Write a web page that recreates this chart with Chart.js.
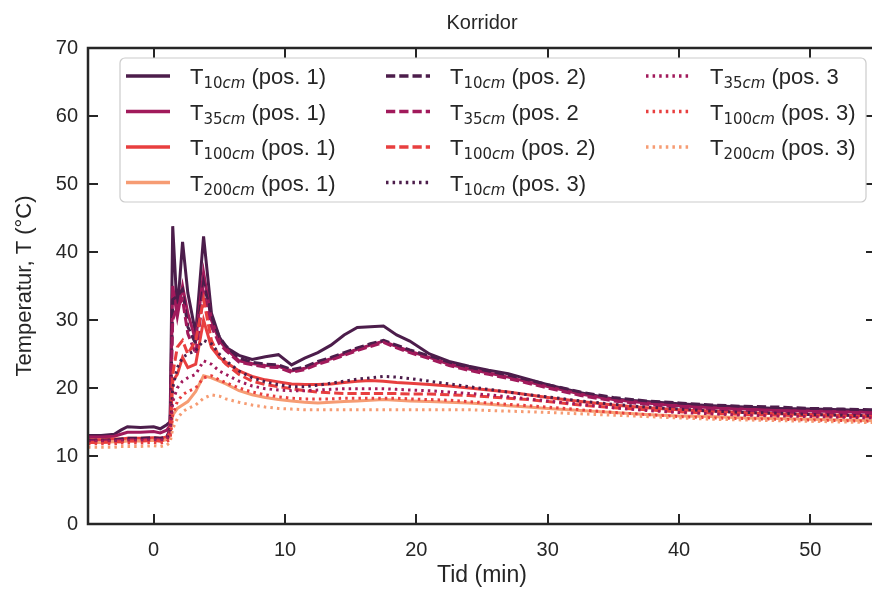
<!DOCTYPE html>
<html>
<head>
<meta charset="utf-8">
<script src="https://cdn.jsdelivr.net/npm/chart.js@4"></script>
<style>
  html, body { margin: 0; padding: 0; background: #fff; overflow: hidden; }
</style>
</head>
<body>
<canvas id="korridor" width="878" height="591"></canvas>
<script>
// time axis (min), shared by all sensors
const time = [-5, -4, -3, -2.5, -2, -1, 0, 0.5, 1.0, 1.25, 1.45, 1.8, 2.2, 2.6, 3.2, 3.8, 4.4, 5.0, 5.5, 6.5,
  7.5, 8.5, 9.5, 10.5, 11.5, 12.5, 13.5, 14.5, 15.5, 16.5, 17.5, 18.5, 19.5, 21, 22.5, 24, 25.5, 27, 28.5, 30,
  32.5, 35, 37.5, 40, 42.5, 45, 47.5, 50, 52.5, 55];

// pos. 1
const t10pos1 = [13.0, 13.0, 13.2, 13.8, 14.3, 14.2, 14.3, 14.0, 14.6, 15.0, 43.8, 31.0, 41.5, 34.0, 28.0, 42.3, 31.0, 27.5, 26.0, 24.8,
  24.2, 24.6, 24.9, 23.4, 24.4, 25.2, 26.3, 27.8, 28.9, 29.0, 29.1, 27.8, 26.9, 25.0, 23.9, 23.2, 22.6, 22.1, 21.3, 20.5,
  19.3, 18.4, 18.0, 17.7, 17.4, 17.2, 17.0, 16.9, 16.8, 16.6];
const t35pos1 = [12.8, 12.8, 12.9, 13.2, 13.5, 13.5, 13.6, 13.4, 13.8, 14.5, 35.0, 30.5, 35.0, 31.0, 27.0, 37.0, 30.0, 27.0, 25.8, 24.0,
  23.6, 23.3, 23.2, 22.5, 22.9, 23.7, 24.3, 25.0, 25.7, 26.3, 26.9, 26.1, 25.4, 24.5, 23.5, 22.8, 22.2, 21.6, 20.9, 20.2,
  19.1, 18.3, 17.8, 17.4, 17.1, 16.9, 16.7, 16.6, 16.5, 16.4];
const t100pos1 = [12.4, 12.4, 12.5, 12.5, 12.6, 12.6, 12.7, 12.6, 12.8, 13.5, 21.0, 22.0, 24.5, 23.0, 23.5, 30.0, 26.0, 24.5, 23.8, 22.5,
  21.7, 21.2, 20.9, 20.6, 20.5, 20.5, 20.6, 20.8, 21.0, 21.1, 21.0, 20.8, 20.7, 20.5, 20.3, 20.0, 19.7, 19.4, 19.0, 18.6,
  18.0, 17.5, 17.1, 16.8, 16.6, 16.4, 16.2, 16.1, 16.0, 15.9];
const t200pos1 = [12.0, 12.0, 12.1, 12.1, 12.2, 12.2, 12.3, 12.2, 12.4, 13.0, 16.0, 17.0, 17.5, 18.0, 19.5, 21.8, 21.5, 21.0, 20.6, 19.6,
  19.0, 18.6, 18.3, 18.1, 17.9, 17.8, 17.9, 18.0, 18.1, 18.2, 18.3, 18.2, 18.1, 18.0, 17.9, 17.8, 17.6, 17.4, 17.2, 17.0,
  16.7, 16.4, 16.1, 15.9, 15.8, 15.6, 15.5, 15.4, 15.3, 15.2];
// pos. 2
const t10pos2 = [12.3, 12.3, 12.4, 12.5, 12.6, 12.6, 12.7, 12.6, 12.8, 14.0, 33.0, 33.5, 34.5, 29.0, 26.5, 35.5, 30.5, 27.5, 26.2, 24.4,
  23.8, 23.5, 23.4, 22.7, 23.1, 23.9, 24.5, 25.2, 25.9, 26.5, 27.0, 26.3, 25.6, 24.7, 23.8, 23.0, 22.5, 21.9, 21.2, 20.5,
  19.4, 18.6, 18.1, 17.8, 17.5, 17.3, 17.2, 17.0, 16.9, 16.8];
const t35pos2 = [12.2, 12.2, 12.3, 12.3, 12.4, 12.4, 12.5, 12.4, 12.6, 13.8, 30.0, 32.0, 33.0, 28.0, 25.0, 34.0, 29.0, 26.5, 25.5, 23.8,
  23.4, 23.1, 23.0, 22.3, 22.7, 23.5, 24.1, 24.8, 25.5, 26.1, 26.7, 25.9, 25.2, 24.3, 23.3, 22.6, 22.0, 21.4, 20.7, 20.0,
  18.9, 18.1, 17.6, 17.2, 16.9, 16.7, 16.5, 16.4, 16.3, 16.2];
const t100pos2 = [12.0, 12.0, 12.1, 12.1, 12.2, 12.2, 12.3, 12.2, 12.4, 13.5, 22.0, 26.0, 27.0, 25.0, 27.0, 33.0, 27.0, 24.5, 23.5, 22.0,
  21.0, 20.5, 20.2, 19.9, 19.6, 19.4, 19.3, 19.2, 19.2, 19.2, 19.2, 19.2, 19.1, 19.1, 19.0, 18.9, 18.7, 18.5, 18.3, 18.0,
  17.5, 17.1, 16.8, 16.5, 16.3, 16.1, 16.0, 15.9, 15.8, 15.7];
// pos. 3
const t10pos3 = [12.3, 12.3, 12.3, 12.4, 12.5, 12.5, 12.6, 12.5, 12.7, 13.0, 20.0, 23.0, 24.5, 25.0, 25.5, 27.0, 26.5, 25.0, 24.0, 22.5,
  21.5, 20.9, 20.5, 20.2, 20.2, 20.4, 20.7, 21.0, 21.3, 21.5, 21.7, 21.6, 21.4, 21.0, 20.6, 20.2, 19.8, 19.4, 19.0, 18.7,
  18.1, 17.6, 17.2, 16.9, 16.6, 16.4, 16.3, 16.1, 16.0, 15.9];
const t35pos3 = [12.2, 12.2, 12.2, 12.3, 12.3, 12.3, 12.4, 12.3, 12.5, 13.0, 18.0, 20.0, 21.0, 21.5, 22.0, 24.0, 23.5, 22.5, 22.0, 21.0,
  20.3, 19.9, 19.7, 19.6, 19.6, 19.7, 19.8, 19.9, 19.9, 19.9, 19.9, 19.8, 19.7, 19.6, 19.4, 19.2, 19.0, 18.7, 18.4, 18.1,
  17.6, 17.1, 16.7, 16.4, 16.2, 16.0, 15.9, 15.8, 15.7, 15.6];
const t100pos3 = [11.8, 11.8, 11.8, 11.9, 11.9, 11.9, 12.0, 11.9, 12.1, 12.5, 16.0, 18.0, 19.0, 19.5, 20.0, 21.5, 21.8, 21.2, 20.8, 20.0,
  19.4, 19.0, 18.7, 18.5, 18.4, 18.4, 18.4, 18.5, 18.5, 18.5, 18.5, 18.5, 18.4, 18.3, 18.2, 18.0, 17.8, 17.6, 17.4, 17.2,
  16.8, 16.4, 16.1, 15.8, 15.6, 15.5, 15.4, 15.3, 15.2, 15.1];
const t200pos3 = [11.3, 11.3, 11.3, 11.4, 11.4, 11.4, 11.5, 11.4, 11.6, 12.0, 14.0, 15.5, 16.5, 17.0, 17.5, 18.5, 19.0, 18.8, 18.4, 17.9,
  17.5, 17.2, 17.0, 16.9, 16.8, 16.8, 16.8, 16.8, 16.8, 16.8, 16.8, 16.8, 16.8, 16.8, 16.8, 16.8, 16.7, 16.6, 16.5, 16.4,
  16.2, 16.0, 15.8, 15.6, 15.4, 15.3, 15.2, 15.1, 15.0, 14.9];

const xTicks = [0, 10, 20, 30, 40, 50];
const yTicks = [0, 10, 20, 30, 40, 50, 60, 70];

// rocket palette, one colour per height
const c10 = '#4c1d4b', c35 = '#a11a5b', c100 = '#e83f3f', c200 = '#f69c73';
const solid = [], dashed = [9.25, 4], dotted = [2.5, 4.1];

// legend text: T + subscript (digits upright, unit italic) + rest
const series = [
  { num: '10', unit: 'cm', rest: ' (pos. 1)', data: t10pos1, color: c10, dash: solid },
  { num: '35', unit: 'cm', rest: ' (pos. 1)', data: t35pos1, color: c35, dash: solid },
  { num: '100', unit: 'cm', rest: ' (pos. 1)', data: t100pos1, color: c100, dash: solid },
  { num: '200', unit: 'cm', rest: ' (pos. 1)', data: t200pos1, color: c200, dash: solid },
  { num: '10', unit: 'cm', rest: ' (pos. 2)', data: t10pos2, color: c10, dash: dashed },
  { num: '35', unit: 'cm', rest: ' (pos. 2', data: t35pos2, color: c35, dash: dashed },
  { num: '100', unit: 'cm', rest: ' (pos. 2)', data: t100pos2, color: c100, dash: dashed },
  { num: '10', unit: 'cm', rest: ' (pos. 3)', data: t10pos3, color: c10, dash: dotted },
  { num: '35', unit: 'cm', rest: ' (pos. 3', data: t35pos3, color: c35, dash: dotted },
  { num: '100', unit: 'cm', rest: ' (pos. 3)', data: t100pos3, color: c100, dash: dotted },
  { num: '200', unit: 'cm', rest: ' (pos. 3)', data: t200pos3, color: c200, dash: dotted }
];

const FONT = "'Liberation Sans', Arial, sans-serif";
const MATH = "'DejaVu Sans', sans-serif";
const INK = '#262626';

// spines all round + inward ticks (matplotlib 'ticks' style)
const framePlugin = {
  id: 'frame',
  afterDatasetsDraw(chart) {
    const { ctx, chartArea: a, scales } = chart;
    ctx.save();
    ctx.strokeStyle = INK;
    ctx.lineWidth = 2;
    ctx.beginPath();
    scales.x.ticks.forEach(t => {
      const px = Math.round(scales.x.getPixelForValue(t.value));
      ctx.moveTo(px, a.bottom); ctx.lineTo(px, a.bottom - 10);
      ctx.moveTo(px, a.top); ctx.lineTo(px, a.top + 10);
    });
    scales.y.ticks.forEach(t => {
      const py = Math.round(scales.y.getPixelForValue(t.value));
      ctx.moveTo(a.left, py); ctx.lineTo(a.left + 10, py);
      ctx.moveTo(a.right, py); ctx.lineTo(a.right - 10, py);
    });
    ctx.stroke();
    ctx.lineWidth = 2.5;
    ctx.strokeRect(a.left, a.top, a.right - a.left, a.bottom - a.top);
    ctx.restore();
  }
};

// three-column legend, filled column first, with subscripts
const legendPlugin = {
  id: 'mplLegend',
  afterDraw(chart) {
    const { ctx, chartArea: a } = chart;
    const bx = a.left + 32, by = a.top + 10, bw = a.right - a.left - 42, bh = 144;
    ctx.save();
    ctx.beginPath();
    ctx.roundRect(bx, by, bw, bh, 5);
    ctx.fillStyle = 'rgba(255,255,255,0.85)';
    ctx.fill();
    ctx.strokeStyle = '#cccccc';
    ctx.lineWidth = 1.2;
    ctx.stroke();

    chart.data.datasets.forEach((ds, i) => {
      const s = series[i];
      const col = Math.floor(i / 4), row = i % 4;
      const x0 = bx + 6 + col * 260;
      const yc = by + 18 + row * 35.5;
      ctx.strokeStyle = ds.borderColor;
      ctx.lineWidth = 3.3;
      ctx.setLineDash(ds.borderDash);
      ctx.beginPath();
      ctx.moveTo(x0, yc); ctx.lineTo(x0 + 44, yc);
      ctx.stroke();
      ctx.setLineDash([]);

      let tx = x0 + 64;
      ctx.fillStyle = INK;
      ctx.textBaseline = 'alphabetic';
      ctx.font = '22px ' + FONT;
      ctx.fillText('T', tx, yc + 8);
      tx += ctx.measureText('T').width;
      ctx.font = '15px ' + MATH;
      ctx.fillText(s.num, tx, yc + 12);
      tx += ctx.measureText(s.num).width;
      ctx.font = 'italic 15px ' + MATH;
      ctx.fillText(s.unit, tx, yc + 12);
      tx += ctx.measureText(s.unit).width;
      ctx.font = '22px ' + FONT;
      ctx.fillText(s.rest, tx, yc + 8);
    });
    ctx.restore();
  }
};

const ctx = document.getElementById('korridor').getContext('2d');
new Chart(ctx, {
  type: 'line',
  data: {
    datasets: series.map((s, i) => ({
      label: 'T' + s.num + s.unit + s.rest,
      data: time.map((t, k) => ({ x: t, y: s.data[k] })),
      borderColor: s.color,
      backgroundColor: s.color,
      borderDash: s.dash,
      borderWidth: 3,
      borderCapStyle: 'butt',
      pointRadius: 0,
      tension: 0,
      fill: false,
      order: series.length - i
    }))
  },
  options: {
    responsive: false,
    animation: false,
    devicePixelRatio: 1,
    layout: { padding: { left: 0, right: 2, top: 0, bottom: 0 } },
    plugins: {
      legend: { display: false },
      tooltip: { enabled: false },
      title: {
        display: true,
        text: 'Korridor',
        fullSize: false,
        color: INK,
        font: { family: FONT, size: 20, weight: 'normal' },
        padding: { top: 11, bottom: 13 }
      }
    },
    scales: {
      x: {
        type: 'linear',
        min: -5,
        max: 55,
        afterBuildTicks: s => { s.ticks = xTicks.map(v => ({ value: v })); },
        afterFit: s => { s.height = 67; },
        grid: { display: false, drawTicks: false },
        border: { display: false },
        ticks: { color: INK, font: { family: FONT, size: 20 }, padding: 14, maxRotation: 0 },
        title: { display: true, text: 'Tid (min)', color: INK, font: { family: FONT, size: 23 }, padding: { top: 2, bottom: 2 } }
      },
      y: {
        min: 0,
        max: 70,
        afterBuildTicks: s => { s.ticks = yTicks.map(v => ({ value: v })); },
        afterFit: s => { s.width = 88; },
        grid: { display: false, drawTicks: false },
        border: { display: false },
        ticks: { color: INK, font: { family: FONT, size: 20 }, padding: 10 },
        title: { display: true, text: 'Temperatur, T (°C)', color: INK, font: { family: FONT, size: 22 }, padding: { top: 12, bottom: 0 } }
      }
    }
  },
  plugins: [framePlugin, legendPlugin]
});
</script>
</body>
</html>
